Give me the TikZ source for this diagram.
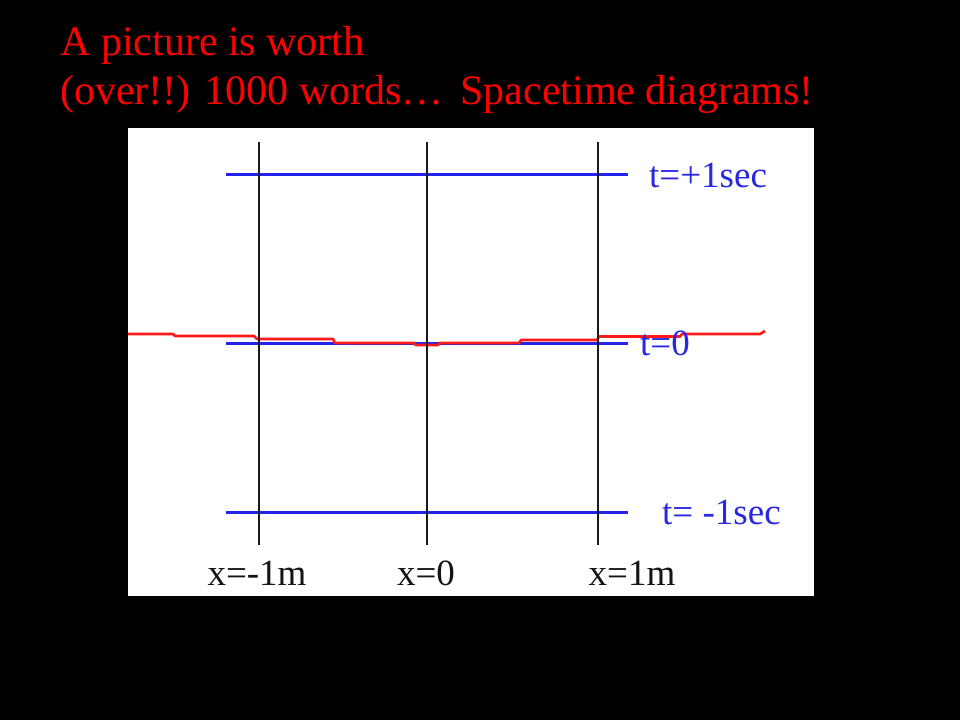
\documentclass[tikz,border=0pt]{standalone}
\usepackage{fontspec}
\setmainfont{Liberation Serif}
\definecolor{titlered}{RGB}{255,0,0}
\definecolor{wlred}{RGB}{255,25,25}
\definecolor{gridblue}{RGB}{35,35,235}
\definecolor{labblue}{RGB}{40,40,225}
\definecolor{gridblack}{RGB}{25,25,25}
\definecolor{labblack}{RGB}{20,20,20}
\begin{document}
\begin{tikzpicture}[x=1pt,y=-1pt,
  titletext/.style={anchor=base west,inner sep=0pt,text=titlered,font=\fontsize{42}{50}\selectfont},
  tlabel/.style={anchor=base west,inner sep=0pt,text=labblue,font=\fontsize{37}{44}\selectfont},
  xlabel/.style={anchor=base,inner sep=0pt,text=labblack,font=\fontsize{37}{44}\selectfont},
  timeline/.style={draw=gridblue,line width=3pt},
  worldline/.style={draw=gridblack,line width=2.8pt},
  redline/.style={draw=wlred,line width=2.6pt,line join=round}]
\fill[black] (0,0) rectangle (960,720);
\useasboundingbox (0,0) rectangle (960,720);
\node[titletext] (title1) at (60,55) {A picture is worth};
\node[titletext] (title2) at (60,104) {(over!!) 1000 words…\hspace{6pt} Spacetime diagrams!};
\node[fill=white,draw=none,inner sep=0pt,minimum width=686pt,minimum height=468pt,anchor=north west] (panel) at (128,128) {};
% time lines
\coordinate (tpL) at (226,174); \coordinate (tpR) at (628,174);
\coordinate (t0L) at (226,343.5); \coordinate (t0R) at (628,343.5);
\coordinate (tmL) at (226,512); \coordinate (tmR) at (628,512);
\draw[timeline] (tpL) -- (tpR);
\draw[timeline] (t0L) -- (t0R);
\draw[timeline] (tmL) -- (tmR);
% red line
\coordinate (rs) at (128,334);
\coordinate (re) at (765,331);
\draw[redline] (rs) -- (173,334) -- (175,336) -- (254,336) -- (257,339) -- (333,339) -- (335,343) -- (413,343) -- (416,345) -- (438,345) -- (440,343) -- (519,343) -- (521,340) -- (597,340) -- (599,336.5) -- (680,336.5) -- (682,334) -- (760,334) -- (re);
% world lines
\coordinate (a1) at (259,142); \coordinate (b1) at (259,545);
\coordinate (a2) at (427,142); \coordinate (b2) at (427,545);
\coordinate (a3) at (598,142); \coordinate (b3) at (598,545);
\draw[worldline] (a1) -- (b1);
\draw[worldline] (a2) -- (b2);
\draw[worldline] (a3) -- (b3);
% labels
\node[tlabel] (lp) at (649,187) {t=+1sec};
\node[tlabel] (l0) at (640,355) {t=0};
\node[tlabel] (lm) at (662,524) {t= -1sec};
\node[xlabel] (xm) at (257,585) {x=-1m};
\node[xlabel] (x0) at (426,585) {x=0};
\node[xlabel] (xp) at (632,585) {x=1m};
\end{tikzpicture}
\end{document}
